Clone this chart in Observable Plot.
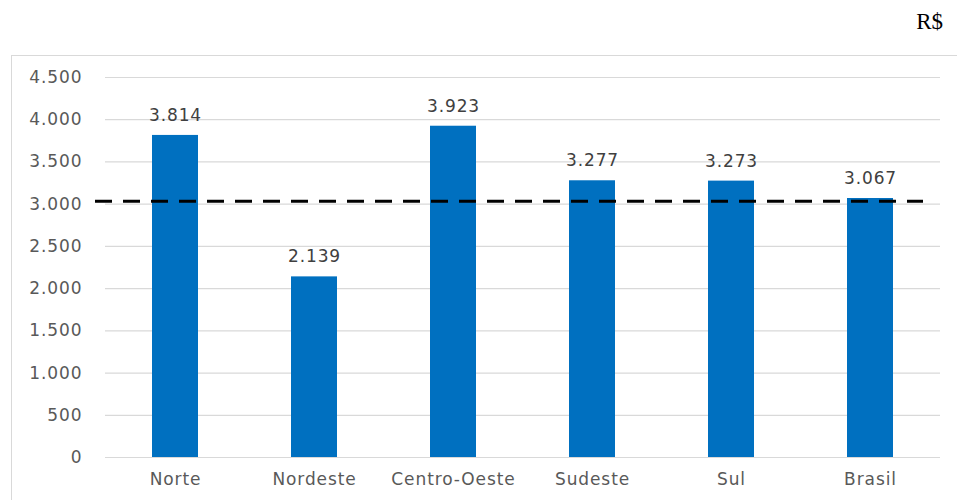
<!DOCTYPE html>
<html>
<head>
<meta charset="utf-8">
<script src="https://cdn.jsdelivr.net/npm/d3@7"></script>
<script src="https://cdn.jsdelivr.net/npm/@observablehq/plot@0.6"></script>
<style>
  html, body { margin: 0; padding: 0; background: #fff; overflow: hidden; }
  #wrap { position: relative; width: 957px; height: 500px; overflow: hidden; }
  #unit { position: absolute; right: 14px; top: 9px; font-family: "Liberation Serif", "DejaVu Serif", serif; font-size: 23px; color: #000; }
  #chart { position: absolute; left: 11px; top: 55px; width: 960px; }
  #chart svg { border-top: 1px solid #d9d9d9; border-left: 1px solid #d9d9d9; display: block; max-width: none; }
</style>
</head>
<body>
<div id="wrap">
  <div id="unit">R$</div>
  <div id="chart"></div>
</div>
<script>
const regions = ["Norte", "Nordeste", "Centro-Oeste", "Sudeste", "Sul", "Brasil"];
const values = [3814, 2139, 3923, 3277, 3273, 3067];
const yTicks = [0, 500, 1000, 1500, 2000, 2500, 3000, 3500, 4000, 4500];
const referenceValue = 3035; // linha tracejada

const data = regions.map((r, i) => ({region: r, value: values[i]}));
const fmt = d3.formatLocale({decimal: ",", thousands: ".", grouping: [3], currency: ["R$", ""]}).format(",d");

const chart = Plot.plot({
  width: 960,
  height: 446,
  marginLeft: 93,
  marginRight: 32,
  marginTop: 21,
  marginBottom: 45,
  style: {fontFamily: "'DejaVu Sans', Verdana, sans-serif", fontSize: "17px", background: "#fff", letterSpacing: "0.9px"},
  x: {domain: regions, paddingInner: 0.67, paddingOuter: 0.335, label: null},
  y: {domain: [0, 4500], label: null},
  marks: [
    Plot.ruleY(yTicks, {stroke: "#d9d9d9", strokeWidth: 1.2}),
    Plot.barY(data, {x: "region", y: "value", fill: "#0070C0"}),
    Plot.text(data, {x: "region", y: "value", text: d => fmt(d.value), dy: -20, fill: "#404040", fontSize: 17}),
    Plot.ruleY([referenceValue], {stroke: "#000", strokeWidth: 3, strokeDasharray: "17 11", insetLeft: -10, insetRight: 17}),
    Plot.axisY({ticks: yTicks, tickFormat: fmt, tickSize: 0, tickPadding: 23, label: null, fill: "#595959", fontSize: 17}),
    Plot.axisX({tickSize: 0, tickPadding: 15, label: null, fill: "#595959", fontSize: 17})
  ]
});
document.getElementById("chart").appendChild(chart);
</script>
</body>
</html>
